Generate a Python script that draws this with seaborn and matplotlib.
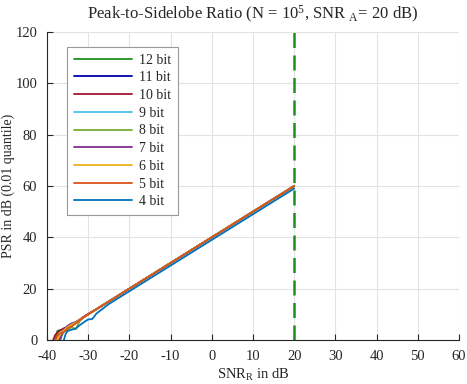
import numpy as np
import pandas as pd
import matplotlib
matplotlib.use("Agg")
import matplotlib.pyplot as plt
import seaborn as sb

#%% Dados
bits = ["12 bit", "11 bit", "10 bit", "9 bit", "8 bit", "7 bit", "6 bit", "5 bit", "4 bit"]
cores = ["#1f8f1f", "#0000b0", "#a2142f", "#4dbeee", "#77ac30",
         "#7e2f8e", "#edb120", "#d95319", "#0072bd"]

x_12 = [-38, -37.5, -37, -36, -35, -34, -33, -32, -31, -30, -28, -25, -20, -10, 0, 10, 20]
y_12 = [0, 3.5, 3.8, 4.0, 4.6, 5.6, 6.8, 7.8, 9.0, 10.0, 12.0, 15.0, 20.0, 30.0, 40.0, 50.0, 60.0]
x_11 = [-36.8, -36.2, -35, -34, -33, -32, -31, -30, -28, -25, -20, -10, 0, 10, 20]
y_11 = [0, 3.0, 4.5, 5.8, 6.8, 7.8, 9.0, 10.0, 12.0, 15.0, 20.0, 30.0, 40.0, 50.0, 60.0]
x_10 = [-38.5, -38, -37, -36, -35, -34, -33, -32, -31, -30, -28, -25, -20, -10, 0, 10, 20]
y_10 = [0, 2.0, 3.5, 4.5, 5.0, 6.0, 7.0, 8.0, 9.0, 10.0, 12.0, 15.0, 20.0, 30.0, 40.0, 50.0, 60.0]
x_9 = [-37.2, -36.5, -35, -34, -33, -32, -31, -30, -28, -25, -20, -10, 0, 10, 20]
y_9 = [0, 3.0, 4.6, 6.0, 7.0, 7.6, 8.8, 10.0, 12.0, 15.0, 20.0, 30.0, 40.0, 50.0, 60.0]
x_8 = [-37, -36, -35, -34, -33, -32.5, -32, -31, -30, -28, -25, -20, -10, 0, 10, 20]
y_8 = [0, 3.0, 4.0, 5.0, 4.2, 6.0, 7.5, 9.0, 10.0, 12.0, 15.0, 20.0, 30.0, 40.0, 50.0, 60.0]
x_7 = [-37, -36, -35, -34, -33, -32, -31, -30, -28, -25, -20, -10, 0, 10, 20]
y_7 = [0, 4.0, 5.5, 6.5, 7.0, 8.0, 9.2, 10.2, 12.0, 15.0, 20.0, 30.0, 40.0, 50.0, 60.0]
x_6 = [-37.5, -36.5, -35, -34, -33, -32, -31, -30, -28, -25, -20, -10, 0, 10, 20]
y_6 = [0, 3.0, 5.0, 6.0, 6.8, 8.0, 9.0, 10.0, 12.0, 15.0, 20.0, 30.0, 40.0, 50.0, 60.0]
x_5 = [-38, -37.5, -37, -36, -35, -34, -33, -32, -31, -30, -28, -25, -20, -10, 0, 10, 20]
y_5 = [0, 1.5, 2.5, 3.0, 4.5, 5.3, 6.5, 7.8, 9.0, 10.0, 12.0, 15.0, 20.0, 30.0, 40.0, 50.0, 60.0]
x_4 = [-35.9, -35.5, -35, -34, -33, -32, -31, -30, -29, -28, -25, -20, -10, 0, 10, 20]
y_4 = [0, 2.2, 3.5, 4.0, 4.5, 5.8, 7.0, 8.0, 8.2, 10.3, 14.0, 19.0, 29.0, 39.0, 49.0, 59.0]

xs = [x_12, x_11, x_10, x_9, x_8, x_7, x_6, x_5, x_4]
ys = [y_12, y_11, y_10, y_9, y_8, y_7, y_6, y_5, y_4]

snr_a = 20

df = pd.concat([pd.DataFrame({"snr": x, "psr": y, "bits": b})
                for x, y, b in zip(xs, ys, bits)], ignore_index=True)

#%% Estilo
sb.set_style("whitegrid")
plt.rcParams["font.family"] = ["Liberation Serif", "DejaVu Serif"]
plt.rcParams["mathtext.fontset"] = "custom"
plt.rcParams["mathtext.rm"] = "Liberation Serif"
plt.rcParams["mathtext.it"] = "Liberation Serif:italic"
plt.rcParams["axes.unicode_minus"] = False

fig = plt.figure(figsize=(4.67, 3.84), dpi=100)
ax = fig.add_axes([0.1006, 0.1146, 0.8823, 0.8021])

sb.lineplot(data=df, x="snr", y="psr", hue="bits", hue_order=bits,
            palette=dict(zip(bits, cores)), linewidth=1.3, ax=ax,
            estimator=None, sort=False)

ax.axvline(snr_a, color="#1f8f1f", linestyle=(0, (6, 3)), linewidth=1.8)

ax.set_xlim(-40, 60)
ax.set_ylim(0, 120)
ax.set_xticks(np.arange(-40, 61, 10))
ax.set_yticks(np.arange(0, 121, 20))
ax.grid(True, color="#e3e3e3", linewidth=0.8)
for s in ["top", "right"]:
    ax.spines[s].set_visible(False)
for s in ["left", "bottom"]:
    ax.spines[s].set_color("#262626")
    ax.spines[s].set_linewidth(0.8)
ax.tick_params(direction="in", length=4, width=0.8, colors="#262626",
               labelsize=10.5, left=True, bottom=True)
ax.tick_params(axis="y", pad=7)
ax.tick_params(axis="x", pad=7)

ax.set_xlabel("SNR$_\\mathrm{R}$ in dB", fontsize=10.5, labelpad=3)
ax.set_ylabel("PSR in dB (0.01 quantile)", fontsize=10)
ax.yaxis.set_label_coords(-0.078, 0.5)
ax.set_title("Peak-to-Sidelobe Ratio (N = 10$^5$, SNR $_\\mathrm{A}$= 20 dB)",
             fontsize=12, pad=9)

h, l = ax.get_legend_handles_labels()
leg = ax.legend(h, l, loc="upper left", bbox_to_anchor=(0.032, 0.975),
                fontsize=10, frameon=True, fancybox=False, framealpha=1,
                edgecolor="#999999", handlelength=4.2, labelspacing=0.34,
                borderpad=0.5, handletextpad=0.5)
leg.get_frame().set_linewidth(0.8)

fig.savefig("out.png", dpi=100)
